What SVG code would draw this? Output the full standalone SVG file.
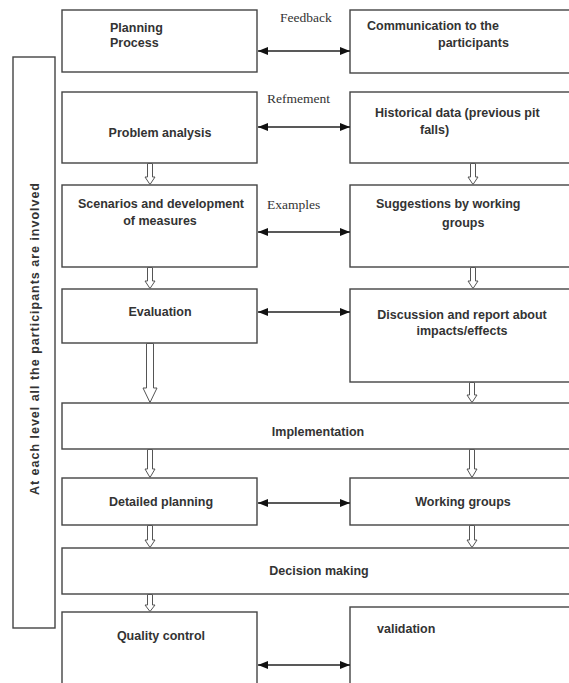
<svg xmlns="http://www.w3.org/2000/svg" width="569" height="683" viewBox="0 0 569 683">
<defs>
<style>
.box{fill:#fff;stroke:#444;stroke-width:1.4}
.t{font-family:"Liberation Sans",Arial,sans-serif;font-weight:bold;font-size:12.5px;fill:#333}
.c{text-anchor:middle}
.lbl{font-family:"Liberation Serif","Times New Roman",serif;font-size:13.5px;fill:#333}
.ha{fill:#fff;stroke:#555;stroke-width:1}
.con{stroke:#222;stroke-width:1.4;fill:none;marker-start:url(#ah);marker-end:url(#ah)}
</style>
<marker id="ah" viewBox="0 0 10 10" refX="10" refY="5" markerWidth="10" markerHeight="10" markerUnits="userSpaceOnUse" orient="auto-start-reverse">
<path d="M0,1 L10,5 L0,9 Z" fill="#111"/>
</marker>
</defs>
<rect width="569" height="683" fill="#fff"/>

<g id="side">
<rect class="box" x="13" y="57" width="42" height="571"/>
<text class="t" font-size="13.5" x="-495" y="39" textLength="312" lengthAdjust="spacing" transform="rotate(-90)">At each level all the participants are involved</text>
</g>

<g id="planning"><rect class="box" x="62" y="10" width="195" height="62"/>
<text class="t" x="110" y="32">Planning</text><text class="t" x="110" y="47">Process</text></g>
<g id="communication"><rect class="box" x="350" y="10" width="230" height="63"/>
<text class="t" x="367" y="30">Communication to the</text><text class="t" x="438" y="47">participants</text></g>

<g id="problem"><rect class="box" x="62" y="92" width="195" height="71"/>
<text class="t c" x="160" y="137">Problem analysis</text></g>
<g id="historical"><rect class="box" x="350" y="92" width="230" height="71"/>
<text class="t" x="375" y="117">Historical data (previous pit</text><text class="t" x="420" y="134">falls)</text></g>

<g id="scenarios"><rect class="box" x="62" y="185" width="195" height="82"/>
<text class="t c" x="161" y="208">Scenarios and development</text><text class="t c" x="160" y="225">of measures</text></g>
<g id="suggestions"><rect class="box" x="350" y="185" width="230" height="82"/>
<text class="t" x="376" y="208">Suggestions by working</text><text class="t" x="442" y="227">groups</text></g>

<g id="evaluation"><rect class="box" x="62" y="289" width="195" height="54"/>
<text class="t c" x="160" y="316">Evaluation</text></g>
<g id="discussion"><rect class="box" x="350" y="289" width="230" height="93"/>
<text class="t c" x="462" y="319">Discussion and report about</text><text class="t c" x="462" y="335">impacts/effects</text></g>

<g id="implementation"><rect class="box" x="62" y="403" width="520" height="46"/>
<text class="t c" x="318" y="436">Implementation</text></g>

<g id="detailed"><rect class="box" x="62" y="478" width="195" height="47"/>
<text class="t c" x="161" y="506">Detailed planning</text></g>
<g id="working"><rect class="box" x="350" y="478" width="230" height="47"/>
<text class="t c" x="463" y="506">Working groups</text></g>

<g id="decision"><rect class="box" x="62" y="548" width="520" height="46"/>
<text class="t c" x="319" y="575">Decision making</text></g>

<g id="quality"><rect class="box" x="62" y="612" width="195" height="80"/>
<text class="t c" x="161" y="640">Quality control</text></g>
<g id="validation"><rect class="box" x="350" y="607" width="230" height="85"/>
<text class="t" x="377" y="633">validation</text></g>

<g id="connectors">
<line class="con" x1="258" y1="51" x2="350" y2="51"/>
<line class="con" x1="258" y1="127" x2="350" y2="127"/>
<line class="con" x1="258" y1="232" x2="350" y2="232"/>
<line class="con" x1="258" y1="312" x2="350" y2="312"/>
<line class="con" x1="258" y1="503" x2="350" y2="503"/>
<line class="con" x1="258" y1="665" x2="350" y2="665"/>
<text class="lbl" x="280" y="22">Feedback</text>
<text class="lbl" x="267" y="103">Refmement</text>
<text class="lbl" x="267" y="209">Examples</text>
<path class="ha" d="M147.5,163.5 V177 H145 L150,184.5 L155,177 H152.5 V163.5 Z"/>
<path class="ha" d="M470.5,163.5 V177 H468 L473,184.5 L478,177 H475.5 V163.5 Z"/>
<path class="ha" d="M147.5,267.5 V281 H145 L150,288.5 L155,281 H152.5 V267.5 Z"/>
<path class="ha" d="M470.5,267.5 V281 H468 L473,288.5 L478,281 H475.5 V267.5 Z"/>
<path class="ha" d="M146.5,343.5 V388 H143 L150,402.5 L157,388 H153.5 V343.5 Z"/>
<path class="ha" d="M469.5,382.5 V395 H467 L472,402.5 L477,395 H474.5 V382.5 Z"/>
<path class="ha" d="M147.5,449.5 V469 H145 L150,477.5 L155,469 H152.5 V449.5 Z"/>
<path class="ha" d="M469.5,449.5 V469 H467 L472,477.5 L477,469 H474.5 V449.5 Z"/>
<path class="ha" d="M147.5,525.5 V540 H145 L150,547.5 L155,540 H152.5 V525.5 Z"/>
<path class="ha" d="M469.5,525.5 V540 H467 L472,547.5 L477,540 H474.5 V525.5 Z"/>
<path class="ha" d="M147.5,594.5 V605 H145 L150,611.5 L155,605 H152.5 V594.5 Z"/>
</g>
</svg>
